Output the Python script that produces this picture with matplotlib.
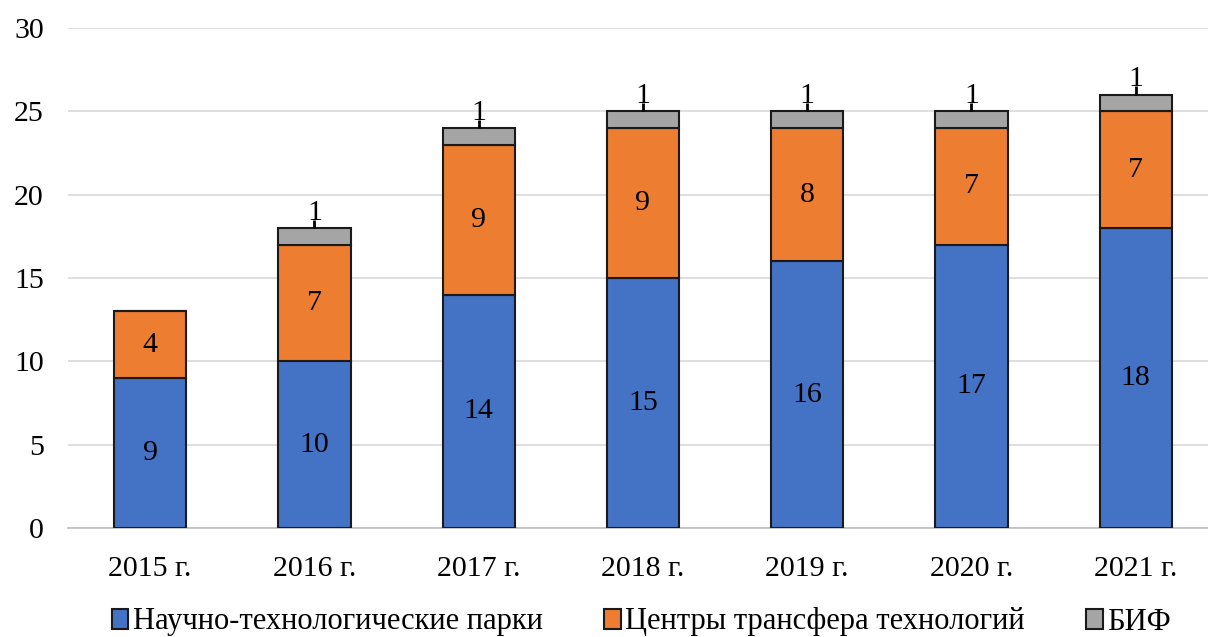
import matplotlib
matplotlib.use("Agg")
import matplotlib.pyplot as plt
from matplotlib.patches import Patch

years = ["2015 г.", "2016 г.", "2017 г.", "2018 г.", "2019 г.", "2020 г.", "2021 г."]
parks = [9, 10, 14, 15, 16, 17, 18]
centers = [4, 7, 9, 9, 8, 7, 7]
bif = [0, 1, 1, 1, 1, 1, 1]

names = ["Научно-технологические парки", "Центры трансфера технологий", "БИФ"]
colors = ["#4472C4", "#ED7D31", "#A5A5A5"]

plt.rcParams["font.family"] = ["Liberation Serif", "DejaVu Serif"]
FS = 21.5
LEAD = 0.5  # leader line length above the БИФ segment, in data units

fig = plt.figure(figsize=(12.08, 6.37), dpi=100)
ax = fig.add_axes([68 / 1208, 1 - 528 / 637, 1 - 68 / 1208, 500 / 637])

x = list(range(len(years)))
w = 0.44
ax.bar(x, parks, w, color=colors[0], edgecolor="#1a1a1a", lw=1.5, zorder=3)
ax.bar(x, centers, w, bottom=parks, color=colors[1], edgecolor="#1a1a1a", lw=1.5, zorder=3)
bot3 = [p + c for p, c in zip(parks, centers)]
ax.bar(x, bif, w, bottom=bot3, color=colors[2], edgecolor="#1a1a1a", lw=1.5, zorder=3)

for i in x:
    ax.text(i, parks[i] / 2, str(parks[i]), ha="center", va="center", fontsize=FS, zorder=4)
    ax.text(i, parks[i] + centers[i] / 2, str(centers[i]), ha="center", va="center", fontsize=FS, zorder=4)
    if bif[i]:
        top = bot3[i] + bif[i]
        ax.vlines(i, top, top + LEAD, color="black", lw=2, zorder=4)
        ax.text(i, top + LEAD, str(bif[i]), ha="center", va="baseline", fontsize=FS, zorder=4)

ax.set_xlim(-0.5, 6.44)
ax.set_ylim(0, 30)
ax.set_yticks(range(0, 31, 5))
ax.set_xticks(x)
ax.set_xticklabels(years)
ax.tick_params(axis="both", length=0, labelsize=FS)
ax.tick_params(axis="y", pad=17.5)
ax.tick_params(axis="x", pad=20)
ax.grid(axis="y", color="#d9d9d9", lw=1.2, zorder=0)
for s in ["top", "right", "left"]:
    ax.spines[s].set_visible(False)
ax.spines["bottom"].set_color("#bfbfbf")
ax.spines["bottom"].set_linewidth(1.2)

handles = [Patch(facecolor=c, edgecolor="#1a1a1a", lw=1.5) for c in colors]
fig.legend(handles, names, loc="center", bbox_to_anchor=(0.531, 1 - 622 / 637),
           ncol=3, frameon=False, fontsize=22, handlelength=0.55, handleheight=0.65,
           handletextpad=0.15, columnspacing=2.0)

fig.savefig("out.png", dpi=100)
